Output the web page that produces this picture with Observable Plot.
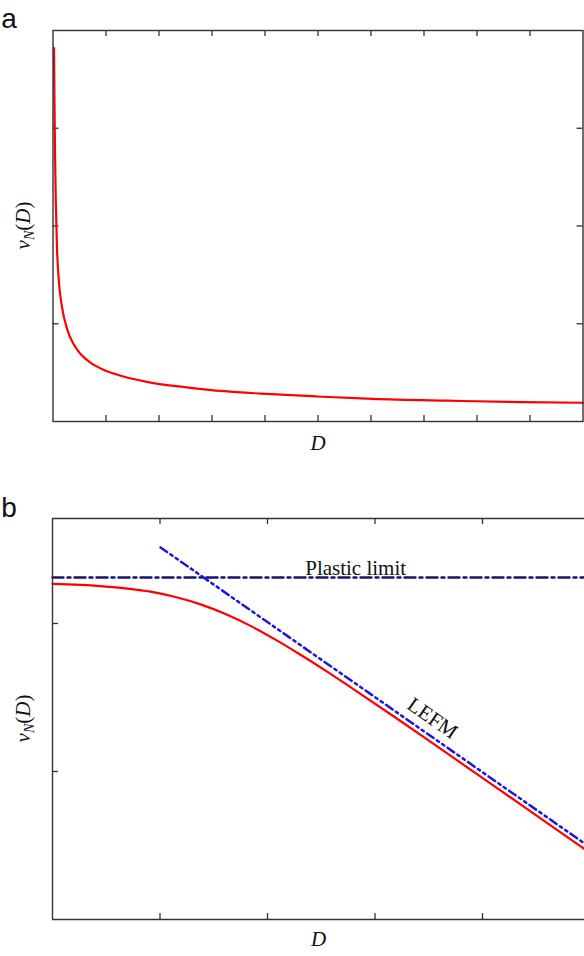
<!DOCTYPE html>
<html>
<head>
<meta charset="utf-8">
<script src="https://cdn.jsdelivr.net/npm/d3@7"></script>
<script src="https://cdn.jsdelivr.net/npm/@observablehq/plot@0.6"></script>
<style>
  html, body { margin: 0; padding: 0; background: #fff; }
  #chart svg { display: block; }
</style>
</head>
<body>
<div id="chart"></div>
<script>
// ---------- Panel a data (x in tick units, y in tick units) ----------
const aD = [0.019, 0.028, 0.038, 0.053, 0.075, 0.11, 0.17, 0.27, 0.39, 0.52, 0.71, 0.91, 1.33, 1.82, 2.52, 3.23, 3.93, 4.98, 6.03, 7.44, 8.84, 10.0];
const aV = [3.82, 3.25, 2.75, 2.25, 1.78, 1.44, 1.17, 0.94, 0.79, 0.69, 0.60, 0.54, 0.46, 0.40, 0.35, 0.31, 0.285, 0.256, 0.232, 0.213, 0.198, 0.192];
const aXTicks = [1, 2, 3, 4, 5, 6, 7, 8, 9];
const aYTicks = [1, 2, 3];

// ---------- Panel b data (log-log, tick units) ----------
const bD = [0, 0.447, 0.912, 1.144, 1.377, 1.609, 1.842, 2.074, 2.307, 2.540, 2.772, 3.237, 3.702, 4.167, 4.633, 4.949];
const bV = [2.268, 2.253, 2.215, 2.179, 2.129, 2.064, 1.984, 1.891, 1.789, 1.682, 1.570, 1.341, 1.107, 0.872, 0.636, 0.476];
const plasticD = [0, 4.949];
const plasticV = [2.311, 2.311];
const lefmD = [1.005, 4.949];
const lefmV = [2.514, 0.514];
const bXTicks = [1, 2, 3, 4];
const bYTicks = [1, 2];
const annotations = [
  {label: "Plastic limit", D: 2.82, V: 2.37, rotate: 0},
  {label: "LEFM", D: 3.535, V: 1.36, rotate: 35}
];
const panelLetters = ["a", "b"];
const xLabel = "D";

const serif = "'Liberation Serif', 'Times New Roman', serif";
const frameColor = "#333";
const W = 584;

function zip(xs, ys) { return xs.map((x, i) => ({D: x, V: ys[i]})); }

function addYLabel(svg, cx, cy) {
  const t = d3.select(svg).append("text")
    .attr("transform", `translate(${cx},${cy}) rotate(-90)`)
    .attr("text-anchor", "middle")
    .attr("font-family", serif)
    .attr("font-size", 21)
    .attr("fill", "#111");
  t.append("tspan").attr("font-style", "italic").text("v");
  t.append("tspan").attr("font-style", "italic").attr("font-size", 14).attr("dy", 4).text("N");
  t.append("tspan").attr("dy", -4).text("(");
  t.append("tspan").attr("font-style", "italic").text("D");
  t.append("tspan").text(")");
}
function addLetter(svg, letter, x, y) {
  d3.select(svg).append("text")
    .attr("x", x).attr("y", y)
    .attr("font-family", "'Liberation Sans', Arial, sans-serif")
    .attr("font-size", 28)
    .attr("fill", "#111")
    .text(letter);
}

// ---------- Panel a ----------
const aH = 478, aTop = 30, aBottom = 57, aLeft = 52.5, aRight = 1.5;
const aInnerH = aH - aTop - aBottom;
const aInnerW = W - aLeft - aRight;
const tick = 6;
const panelA = Plot.plot({
  width: W, height: aH,
  marginTop: aTop, marginBottom: aBottom, marginLeft: aLeft, marginRight: aRight,
  x: {domain: [0, 10], axis: null},
  y: {domain: [0, 4], axis: null},
  style: {background: "white", overflow: "visible"},
  marks: [
    Plot.tickX(aXTicks, {x: d => d, insetTop: aInnerH - tick, stroke: frameColor, strokeWidth: 1.3}),
    Plot.tickX(aXTicks, {x: d => d, insetBottom: aInnerH - tick, stroke: frameColor, strokeWidth: 1.3}),
    Plot.tickY(aYTicks, {y: d => d, insetRight: aInnerW - tick, stroke: frameColor, strokeWidth: 1.3}),
    Plot.tickY(aYTicks, {y: d => d, insetLeft: aInnerW - tick, stroke: frameColor, strokeWidth: 1.3}),
    Plot.line(zip(aD, aV), {x: "D", y: "V", stroke: "#ff0000", strokeWidth: 2.2, curve: "monotone-x"}),
    Plot.frame({stroke: frameColor, strokeWidth: 1.4}),
    Plot.text([xLabel], {text: d => d, frameAnchor: "bottom", dy: 28, fontSize: 21, fontStyle: "italic", fontFamily: serif, fill: "#111"})
  ]
});
addYLabel(panelA, 30, aTop + aInnerH / 2);
addLetter(panelA, panelLetters[0], 9, 28);

// ---------- Panel b ----------
const bH = 478, bTop = 40, bBottom = 37, bLeft = 52, bRight = 0;
const bInnerH = bH - bTop - bBottom;
const bInnerW = W - bLeft - bRight;
const bYMax = bInnerH / 148;
const bXMax = bInnerW / 107.5;
const panelB = Plot.plot({
  width: W, height: bH,
  marginTop: bTop, marginBottom: bBottom, marginLeft: bLeft, marginRight: bRight,
  x: {domain: [0, bXMax], axis: null},
  y: {domain: [0, bYMax], axis: null},
  style: {background: "white", overflow: "visible"},
  marks: [
    Plot.tickX(bXTicks, {x: d => d, insetTop: bInnerH - tick, stroke: frameColor, strokeWidth: 1.3}),
    Plot.tickX(bXTicks, {x: d => d, insetBottom: bInnerH - tick, stroke: frameColor, strokeWidth: 1.3}),
    Plot.tickY(bYTicks, {y: d => d, insetRight: bInnerW - tick, stroke: frameColor, strokeWidth: 1.3}),
    Plot.line(zip(plasticD, plasticV), {x: "D", y: "V", stroke: "#14146e", strokeWidth: 2.4, strokeDasharray: "11,4,3,4"}),
    Plot.line(zip(bD, bV), {x: "D", y: "V", stroke: "#ff0000", strokeWidth: 2.2, curve: "monotone-x"}),
    Plot.line(zip(lefmD, lefmV), {x: "D", y: "V", stroke: "#1a1ad6", strokeWidth: 2.5, strokeDasharray: "8,4,2.5,4,2.5,4"}),
    Plot.text(annotations, {x: "D", y: "V", text: "label", rotate: "rotate", fontSize: 21, fontFamily: serif, fill: "#111", textAnchor: "middle"}),
    Plot.ruleX([0], {stroke: frameColor, strokeWidth: 1.4}),
    Plot.ruleY([0, bYMax], {stroke: frameColor, strokeWidth: 1.4}),
    Plot.text([xLabel], {text: d => d, frameAnchor: "bottom", dy: 26, fontSize: 21, fontStyle: "italic", fontFamily: serif, fill: "#111"})
  ]
});
addYLabel(panelB, 30, bTop + bInnerH / 2);
addLetter(panelB, panelLetters[1], 9, 39);

const root = document.getElementById("chart");
root.appendChild(panelA);
root.appendChild(panelB);
</script>
</body>
</html>
